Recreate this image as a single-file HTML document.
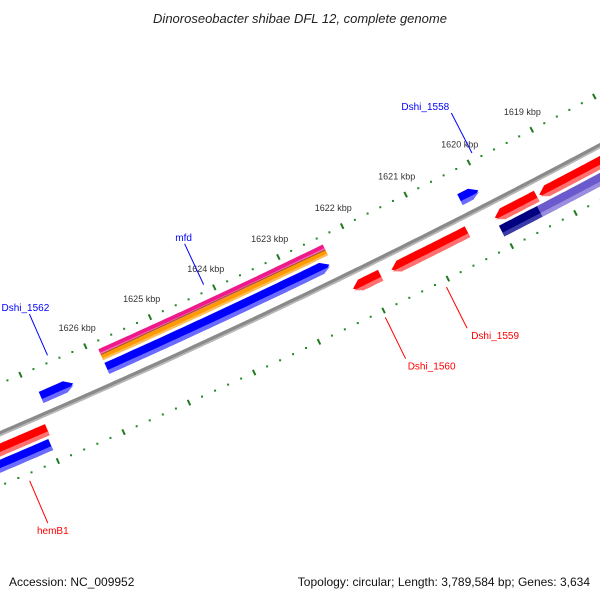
<!DOCTYPE html>
<html><head><meta charset="utf-8"><style>
html,body{margin:0;padding:0;background:#fff;}
svg{display:block;}
text{font-family:"Liberation Sans","DejaVu Sans",sans-serif;}
</style></head><body>
<svg id="map" width="600" height="600" viewBox="0 0 600 600" xmlns="http://www.w3.org/2000/svg">
<rect width="600" height="600" fill="#fff"/>
<text x="300" y="23" text-anchor="middle" font-size="13" font-style="italic" fill="#222">Dinoroseobacter shibae DFL 12, complete genome</text>
<g id="rings"></g>
<g id="feats"></g>
<g id="labels"></g>
<text x="9" y="586" font-size="12" fill="#111">Accession: NC_009952</text>
<text x="590" y="586" font-size="12" text-anchor="end" fill="#111">Topology: circular; Length: 3,789,584 bp; Genes: 3,634</text>
</svg>
<script>
// data
const majorTicks = [1617, 1618, 1619, 1620, 1621, 1622, 1623, 1624, 1625, 1626, 1627, 1628];
const labeledTicks = [1619, 1620, 1621, 1622, 1623, 1624, 1625, 1626];
const featStart = [1625.85, 1625.85, 1625.85, 1626.86, 1620.35, 1628.5, 1628.5, 1622.25, 1621.65, 1620.03, 1619.33, 1620.03, 1619.43];
const featEnd   = [1622.36, 1622.36, 1622.40, 1626.37, 1620.06, 1626.96, 1627.0, 1621.82, 1620.46, 1619.37, 1617.0, 1619.43, 1617.0];
const featSlot  = ["pink", "orange", "fwd", "fwd", "fwd", "rev", "rev2", "rev", "rev", "rev", "rev", "rev2", "rev2"];
const featColor = ["#ee1a8c", "#ff9a00", "#0000ff", "#0000ff", "#0000ff", "#ff0000", "#0000ff", "#ff0000", "#ff0000", "#ff0000", "#ff0000", "#000080", "#6a5acd"];
const featLight = ["#ff66b8", "#ffbe5a", "#6b6bff", "#6b6bff", "#6b6bff", "#ff7070", "#6b6bff", "#ff7070", "#ff7070", "#ff7070", "#ff7070", "#3a3aa8", "#9a8ee0"];
const featArrow = ["none", "none", "right", "right", "right", "none", "none", "left", "left", "left", "left", "none", "none"];
const labelText = ["Dshi_1562", "mfd", "Dshi_1558", "hemB1", "Dshi_1560", "Dshi_1559"];
const labelKbp  = [1626.54, 1624.12, 1619.9, 1627.47, 1622.02, 1621.07];
const labelColor = ["#0000ff", "#0000ff", "#0000ff", "#ff0000", "#ff0000", "#ff0000"];
const labelSide = [-1, -1, -1, 1, 1, 1];
const labelDx = [-4, -1, -26, 5, 26, 28];

// geometry
const CX = -3014, CY = -6615, R0 = 7666;
const slotR = {pink: -35, orange: -29, fwd: -17, rev: 15, rev2: 30};
const slotH = {pink: 6, orange: 6, fwd: 12, rev: 12, rev2: 12};
function ang(k){ return (66.0 + (k - 1626) * 0.533) * Math.PI / 180; }
function pt(k, off){ const a = ang(k), r = R0 + off; return [CX + r*Math.cos(a), CY + r*Math.sin(a)]; }
const NS = "http://www.w3.org/2000/svg";
function mk(tag, attrs, parent){ const e = document.createElementNS(NS, tag); for (const k in attrs) e.setAttribute(k, attrs[k]); parent.appendChild(e); return e; }

const rings = document.getElementById('rings');
// backbone
(function(){
  const pts = [], pts2 = [];
  for (let k = 1629; k >= 1616; k -= 0.1){ pts.push(pt(k, -2.5)); pts2.push(pt(k, 2.5)); }
  const d = pts.concat(pts2.reverse()).map(p => p[0].toFixed(1)+','+p[1].toFixed(1)).join(' ');
  const bb = mk('polygon', {points: d, fill: '#8a8a8a'}, rings);
  
  
  const pts3 = [], pts4 = [];
  for (let k = 1629; k >= 1616; k -= 0.1){ pts3.push(pt(k, 0.8)); pts4.push(pt(k, 2.5)); }
  const d2 = pts3.concat(pts4.reverse()).map(p => p[0].toFixed(1)+','+p[1].toFixed(1)).join(' ');
  const bl = mk('polygon', {points: d2, fill: '#b8b8b8'}, rings);
  
  
})();
// tick rings
[-46, 48].forEach(function(off, ri){
  majorTicks.forEach(function(m){
    const a = pt(m, off - 3), b = pt(m, off + 3);
    const t = mk('line', {x1: a[0], y1: a[1], x2: b[0], y2: b[1], stroke: '#1f7a1f', 'stroke-width': 2}, rings);
    
    
    for (let j = 1; j < 5; j++){
      const p = pt(m + j * 0.2, off);
      const dt = mk('rect', {x: p[0]-1, y: p[1]-1, width: 2, height: 2, fill: '#1f8a1f'}, rings);
      
      
    }
  });
});
labeledTicks.forEach(function(m){
  const p = pt(m, -66);
  const t = mk('text', {x: p[0].toFixed(1), y: (p[1]+3).toFixed(1), 'font-size': 9, 'text-anchor': 'middle', fill: '#333'}, rings);
  t.textContent = m + ' kbp';
  
  
});

// features
const feats = document.getElementById('feats');
function shape(k1, k2, rIn, rOut, rTip, arrow){
  const HL = 0.12;
  let a = k1, b = k2;
  if (arrow === 'right') b = Math.min(k1, k2 + HL);
  if (arrow === 'left') a = Math.max(k2, k1 - HL);
  const top = [], bot = [];
  const n = Math.max(2, Math.ceil((a - b) / 0.05));
  for (let i = 0; i <= n; i++){ const k = a - (a - b) * i / n; top.push(pt(k, rIn)); bot.push(pt(k, rOut)); }
  let poly = [];
  if (arrow === 'left') poly.push(pt(k1, rTip));
  poly = poly.concat(top);
  if (arrow === 'right') poly.push(pt(k2, rTip));
  poly = poly.concat(bot.reverse());
  return poly.map(p => p[0].toFixed(1)+','+p[1].toFixed(1)).join(' ');
}
for (let i = 0; i < featStart.length; i++){
  const r = slotR[featSlot[i]], h = slotH[featSlot[i]];
  const g = mk('g', {}, feats);
  
  
  mk('polygon', {points: shape(featStart[i], featEnd[i], r - h/2, r + h/2, r, featArrow[i]), fill: featColor[i]}, g);
  mk('polygon', {points: shape(featStart[i], featEnd[i], r + h*0.15, r + h/2, r + h*0.15, featArrow[i]), fill: featLight[i]}, g);
}
// thin line between pink and orange
(function(){
  const a = pt(featStart[0], -32), b = pt(featEnd[0], -32);
  const l = mk('line', {x1: a[0], y1: a[1], x2: b[0], y2: b[1], stroke: '#9a5a20', 'stroke-width': 1}, feats);
  
  
})();

// labels
const labels = document.getElementById('labels');
for (let i = 0; i < labelText.length; i++){
  const s = labelSide[i];
  const p1 = pt(labelKbp[i], s < 0 ? -53 : 55), p2 = pt(labelKbp[i], s < 0 ? -98 : 101);
  const ln = mk('line', {x1: p1[0], y1: p1[1], x2: p2[0], y2: p2[1], stroke: labelColor[i], 'stroke-width': 1}, labels);
  
  
  const tx = p2[0] + labelDx[i];
  const ty = s < 0 ? p2[1] - 3 : p2[1] + 11;
  const t = mk('text', {x: tx.toFixed(1), y: ty.toFixed(1), 'font-size': 10, 'text-anchor': 'middle', fill: labelColor[i]}, labels);
  t.textContent = labelText[i];
  
  
}
</script>
</body></html>
